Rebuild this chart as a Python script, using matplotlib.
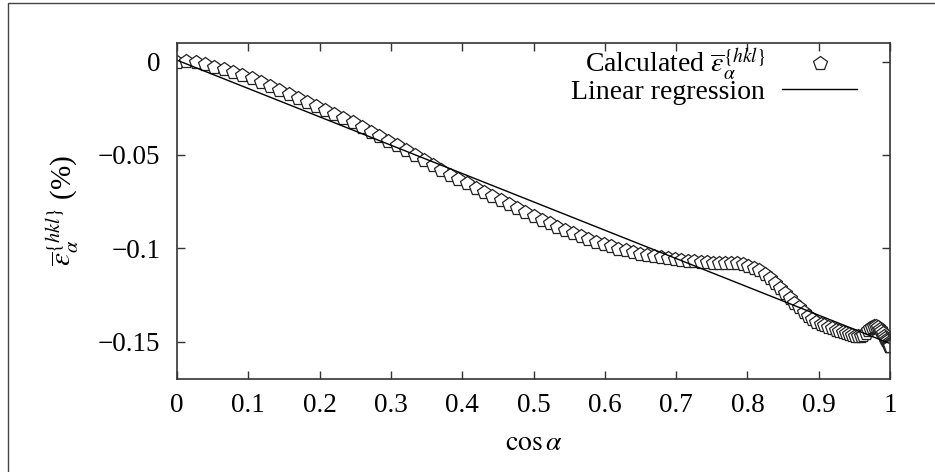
import matplotlib
matplotlib.use("Agg")
import matplotlib.pyplot as plt
from matplotlib.patches import Rectangle

# Chart style: Times-like serif text, STIX math
plt.rcParams["font.family"] = ["Liberation Serif", "DejaVu Serif"]
plt.rcParams["mathtext.fontset"] = "stix"
plt.rcParams["font.size"] = 19.5

# Calculated strain vs cos(alpha)
cos_alpha = [
    0.0000, 0.0131, 0.0262, 0.0393, 0.0523, 0.0654, 0.0785, 0.0915, 0.1045, 0.1175,
    0.1305, 0.1435, 0.1564, 0.1693, 0.1822, 0.1951, 0.2079, 0.2207, 0.2334, 0.2462,
    0.2588, 0.2714, 0.2840, 0.2965, 0.3090, 0.3214, 0.3338, 0.3461, 0.3584, 0.3706,
    0.3827, 0.3947, 0.4067, 0.4187, 0.4305, 0.4423, 0.4540, 0.4656, 0.4772, 0.4886,
    0.5000, 0.5113, 0.5225, 0.5336, 0.5446, 0.5556, 0.5664, 0.5771, 0.5878, 0.5983,
    0.6088, 0.6191, 0.6293, 0.6394, 0.6494, 0.6593, 0.6691, 0.6788, 0.6884, 0.6978,
    0.7071, 0.7163, 0.7254, 0.7343, 0.7431, 0.7518, 0.7604, 0.7688, 0.7771, 0.7853,
    0.7934, 0.8013, 0.8090, 0.8166, 0.8241, 0.8315, 0.8387, 0.8457, 0.8526, 0.8594,
    0.8660, 0.8725, 0.8788, 0.8850, 0.8910, 0.8969, 0.9026, 0.9081, 0.9135, 0.9188,
    0.9239, 0.9288, 0.9336, 0.9382, 0.9426, 0.9469, 0.9511, 0.9550, 0.9588, 0.9625,
    0.9659, 0.9692, 0.9724, 0.9753, 0.9781, 0.9808, 0.9833, 0.9856, 0.9877, 0.9897,
    0.9914, 0.9931, 0.9945, 0.9958, 0.9969, 0.9979, 0.9986, 0.9992, 0.9997, 0.9999,
    1.0000,
]
strain = [
    0.0000, 0.0004, -0.0004, -0.0015, -0.0027, -0.0040, -0.0054, -0.0070, -0.0088, -0.0107,
    -0.0128, -0.0150, -0.0172, -0.0195, -0.0218, -0.0238, -0.0257, -0.0278, -0.0300, -0.0323,
    -0.0349, -0.0375, -0.0400, -0.0424, -0.0448, -0.0474, -0.0501, -0.0528, -0.0555, -0.0581,
    -0.0605, -0.0629, -0.0652, -0.0675, -0.0697, -0.0719, -0.0741, -0.0763, -0.0785, -0.0806,
    -0.0827, -0.0847, -0.0866, -0.0885, -0.0903, -0.0920, -0.0936, -0.0951, -0.0965, -0.0978,
    -0.0990, -0.1001, -0.1011, -0.1020, -0.1028, -0.1035, -0.1042, -0.1048, -0.1053, -0.1058,
    -0.1062, -0.1066, -0.1069, -0.1072, -0.1074, -0.1076, -0.1077, -0.1078, -0.1079, -0.1081,
    -0.1085, -0.1092, -0.1103, -0.1118, -0.1138, -0.1161, -0.1185, -0.1210, -0.1237, -0.1264,
    -0.1291, -0.1316, -0.1339, -0.1360, -0.1378, -0.1392, -0.1404, -0.1413, -0.1421, -0.1428,
    -0.1435, -0.1442, -0.1448, -0.1454, -0.1460, -0.1465, -0.1469, -0.1471, -0.1470, -0.1463,
    -0.1451, -0.1439, -0.1428, -0.1420, -0.1415, -0.1416, -0.1421, -0.1430, -0.1442, -0.1455,
    -0.1467, -0.1478, -0.1489, -0.1498, -0.1506, -0.1513, -0.1518, -0.1521, -0.1523, -0.1524,
    -0.1525,
]

# Linear regression end points
fit_x = [0.0, 1.0]
fit_y = [0.0008, -0.1510]

x_ticks = [0, 0.1, 0.2, 0.3, 0.4, 0.5, 0.6, 0.7, 0.8, 0.9, 1]
x_tick_labels = ["0", "0.1", "0.2", "0.3", "0.4", "0.5", "0.6", "0.7", "0.8", "0.9", "1"]
y_ticks = [0, -0.05, -0.1, -0.15]
y_tick_labels = ["0", "\u22120.05", "\u22120.1", "\u22120.15"]

fig = plt.figure(figsize=(9.35, 4.72), dpi=100)
ax = fig.add_axes([177 / 935, 1 - 379 / 472, 713 / 935, 336 / 472])

# trailing \enspace keeps both legend texts starting at the same x
ax.plot(cos_alpha, strain, linestyle="none", marker="p", markersize=10,
        markerfacecolor="white", markeredgecolor="#222222", markeredgewidth=0.9,
        label=r"Calculated $\overline{\varepsilon}_{\alpha}^{\{hkl\}}\enspace$")
ax.plot(fit_x, fit_y, color="black", linewidth=1.0, label="Linear regression")

ax.set_xlim(0, 1)
ax.set_ylim(-0.17, 0.01)
ax.set_xticks(x_ticks)
ax.set_xticklabels(x_tick_labels)
ax.set_yticks(y_ticks)
ax.set_yticklabels(y_tick_labels)
ax.tick_params(direction="in", length=6, width=1, top=True, right=True, color="#333333")
ax.tick_params(axis="x", pad=10)
ax.tick_params(axis="y", pad=12)
for sp in ax.spines.values():
    sp.set_color("#333333")
    sp.set_linewidth(1.2)

ax.set_xlabel(r"$\cos\alpha$", fontsize=20)
ax.xaxis.set_label_coords(0.5, -0.155)
ax.set_ylabel(r"$\overline{\varepsilon}_{\alpha}^{\{hkl\}}$ (%)", fontsize=21)
ax.yaxis.set_label_coords(-0.134, 0.5)

ax.legend(loc="upper right", bbox_to_anchor=(0.981, 1.048), frameon=False, markerfirst=False,
          handlelength=2.7, labelspacing=-0.12, borderpad=0.2, handletextpad=0.6,
          fontsize=20)

# outer frame of the figure (only left and top edges are visible)
fig.add_artist(Rectangle((7.5 / 935, -0.5), 2.0, 0.5 + 1 - 2.5 / 472, transform=fig.transFigure,
                         fill=False, edgecolor="#444444", linewidth=1.0))

fig.savefig("out.png", dpi=100)
